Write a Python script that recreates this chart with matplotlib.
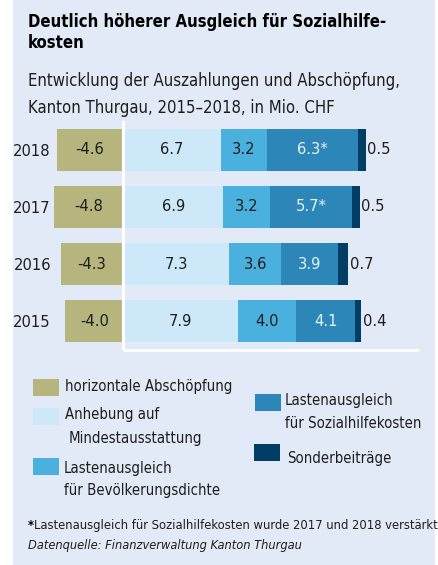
import numpy as np
import matplotlib
matplotlib.use('Agg')
import matplotlib.pyplot as plt
from matplotlib.patches import Rectangle

plt.rcParams['font.family'] = ['Liberation Sans Narrow', 'DejaVu Sans']
plt.rcParams['font.stretch'] = 'condensed'

# data (Mio. CHF)
years = ['2015', '2016', '2017', '2018']
abschoepfung = [-4.0, -4.3, -4.8, -4.6]
mindest = [7.9, 7.3, 6.9, 6.7]
bevoelkerung = [4.0, 3.6, 3.2, 3.2]
sozialhilfe = [4.1, 3.9, 5.7, 6.3]
sonder = [0.4, 0.7, 0.5, 0.5]
sozial_labels = ['4.1', '3.9', '5.7*', '6.3*']

colors = ['#b6b57e', '#cde9f9', '#4ab1de', '#2c87b8', '#003e66']
bg = '#e1eaf6'
txt = '#1e1e1e'

W, H = 438, 565
fig = plt.figure(figsize=(W / 100, H / 100), dpi=100)
fig.patches.append(Rectangle((13 / W, 0), 422 / W, 1, transform=fig.transFigure,
                             facecolor=bg, edgecolor='none', zorder=-10))

# title + subtitle
fs_title = 11.95
fig.text(28 / W, 1 - 27.3 / H, 'Deutlich höherer Ausgleich für Sozialhilfe-', fontsize=fs_title,
         fontweight='bold', va='baseline', color='black')
fig.text(28 / W, 1 - 48.3 / H, 'kosten', fontsize=fs_title, fontweight='bold', va='baseline', color='black')
fig.text(28 / W, 1 - 86 / H, 'Entwicklung der Auszahlungen und Abschöpfung,', fontsize=12.0,
         va='baseline', color=txt)
fig.text(28 / W, 1 - 112.7 / H, 'Kanton Thurgau, 2015–2018, in Mio. CHF', fontsize=12.0,
         va='baseline', color=txt)

# chart
xmin, xmax = -4.9, 20.4
ax_l = 52.3
ax_r = ax_l + (xmax - xmin) * 14.5
ax = fig.add_axes([ax_l / W, (H - 350) / H, (ax_r - ax_l) / W, 229 / H])
ax.set_facecolor('none')
y = np.arange(len(years))
h = 0.73

ax.barh(y, abschoepfung, height=h, color=colors[0])
left = np.zeros(len(years))
for vals, c in zip([mindest, bevoelkerung, sozialhilfe, sonder], colors[1:]):
    ax.barh(y, vals, left=left, height=h, color=c)
    left = left + np.array(vals)

ax.axvline(0, color='white', lw=2.3, zorder=5)
ax.hlines(-0.5, 0, xmax, color='white', lw=2.0, zorder=5, clip_on=False)

fs = 11.8
for i in range(len(years)):
    ax.text(abschoepfung[i] / 2, y[i], f'{abschoepfung[i]:.1f}', ha='center', va='center',
            fontsize=fs, color=txt)
    x0 = 0
    ax.text(x0 + mindest[i] / 2, y[i], f'{mindest[i]:.1f}', ha='center', va='center', fontsize=fs, color=txt)
    x0 += mindest[i]
    ax.text(x0 + bevoelkerung[i] / 2, y[i], f'{bevoelkerung[i]:.1f}', ha='center', va='center',
            fontsize=fs, color=txt)
    x0 += bevoelkerung[i]
    ax.text(x0 + sozialhilfe[i] / 2, y[i], sozial_labels[i], ha='center', va='center',
            fontsize=fs, color='#e6f2fa')
    x0 += sozialhilfe[i] + sonder[i]
    ax.text(x0 + 0.1, y[i], f'{sonder[i]:.1f}', ha='left', va='center', fontsize=fs, color=txt)

ax.set_xlim(xmin, xmax)
ax.set_ylim(-0.5, 3.5)
ax.set_yticks(y)
ax.set_yticklabels(years, fontsize=fs, color=txt)
ax.tick_params(axis='y', length=0, pad=1)
ax.set_xticks([])
for s in ax.spines.values():
    s.set_visible(False)

# legend (two columns, placed by hand)
def legend_item(px, py, color, lines, tx, line_y, fs_leg=10.7):
    fig.patches.append(Rectangle((px / W, 1 - (py + 17) / H), 26 / W, 17 / H,
                                 transform=fig.transFigure, facecolor=color, edgecolor='none'))
    for (lx, ly), t in zip(zip(tx, line_y), lines):
        fig.text(lx / W, 1 - ly / H, t, fontsize=fs_leg, va='center', color=txt)

legend_item(33, 379, colors[0], ['horizontale Abschöpfung'], [65], [387])
legend_item(33, 408, colors[1], ['Anhebung auf', 'Mindestausstattung'], [65, 69], [415, 438])
legend_item(33, 458, colors[2], ['Lastenausgleich', 'für Bevölkerungsdichte'], [64, 64], [468, 490])
legend_item(255, 394, colors[3], ['Lastenausgleich', 'für Sozialhilfekosten'], [285, 285], [401, 423])
legend_item(254, 444, colors[4], ['Sonderbeiträge'], [287], [458])

# footnote and source
fig.text(28 / W, 1 - 525 / H, '*', fontsize=9.2, fontweight='bold', va='center', color='black')
fig.text(34 / W, 1 - 525 / H, 'Lastenausgleich für Sozialhilfekosten wurde 2017 und 2018 verstärkt',
         fontsize=9.25, va='center', color=txt)
fig.text(28 / W, 1 - 545 / H, 'Datenquelle: Finanzverwaltung Kanton Thurgau', fontsize=9.2,
         style='italic', va='center', color=txt)

fig.savefig('out.png', dpi=100, facecolor='white')
